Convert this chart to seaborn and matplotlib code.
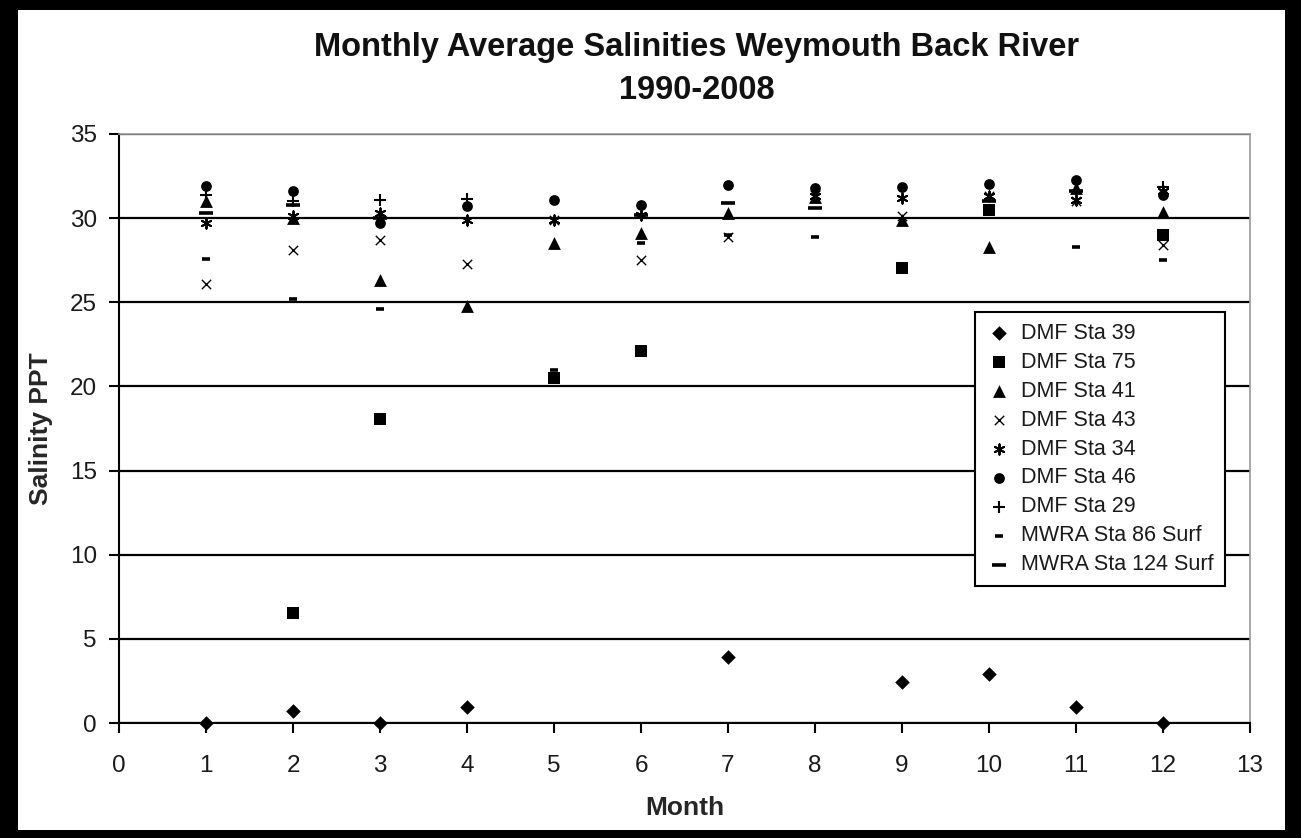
import numpy as np
import pandas as pd
import matplotlib
matplotlib.use("Agg")
import matplotlib.pyplot as plt
from matplotlib.patches import Rectangle
import seaborn as sns

nan = np.nan

months = list(range(1, 13))

sta39 = [0.0, 0.73, 0.0, 0.98, nan, nan, 3.9, nan, 2.42, 2.93, 0.98, 0.0]
sta75 = [nan, 6.56, 18.05, nan, 20.5, 22.1, nan, nan, 27.05, 30.5, nan, 29.0]
sta41 = [31.0, 30.0, 26.35, 24.75, 28.55, 29.1, 30.3, 31.25, 29.9, 28.3, 31.8, 30.35]
sta43 = [26.1, 28.1, 28.7, 27.3, 29.9, 27.5, 28.85, 31.4, 30.1, 31.3, 31.0, 28.4]
sta34 = [29.7, 30.1, 30.3, 29.9, 29.9, 30.2, nan, 31.3, 31.2, 31.3, 31.1, 31.6]
sta46 = [31.9, 31.6, 29.7, 30.7, 31.1, 30.8, 31.95, 31.8, 31.85, 32.0, 32.25, 31.35]
sta29 = [31.4, 31.0, 31.1, 31.15, nan, nan, nan, nan, nan, nan, nan, 31.85]
mwra86 = [27.55, 25.2, 24.6, nan, 21.0, 28.55, 29.0, 28.9, nan, nan, 28.3, 27.5]
mwra124 = [30.3, 30.8, 30.0, nan, nan, 30.2, 30.9, 30.6, nan, 31.0, 31.6, nan]

station_names = ["DMF Sta 39", "DMF Sta 75", "DMF Sta 41", "DMF Sta 43",
                 "DMF Sta 34", "DMF Sta 46", "DMF Sta 29",
                 "MWRA Sta 86 Surf", "MWRA Sta 124 Surf"]
station_values = [sta39, sta75, sta41, sta43, sta34, sta46, sta29, mwra86, mwra124]

x_ticks = list(range(0, 14))
y_ticks = list(range(0, 36, 5))

title_text = "Monthly Average Salinities Weymouth Back River\n1990-2008"
x_label = "Month"
y_label = "Salinity PPT"

df = pd.DataFrame({
    "Month": np.tile(months, len(station_names)),
    "Salinity": np.concatenate(station_values),
    "Station": np.repeat(station_names, len(months)),
})

# marker, size (pt^2), edge line width
marker_styles = {
    "DMF Sta 39": ("D", 55, 0),
    "DMF Sta 75": ("s", 75, 0),
    "DMF Sta 41": ("^", 85, 0),
    "DMF Sta 43": ("x", 45, 1.0),
    "DMF Sta 34": ((6, 2, 0), 55, 1.4),
    "DMF Sta 46": ("o", 60, 0),
    "DMF Sta 29": ("+", 65, 1.5),
    "MWRA Sta 86 Surf": ("_", 32, 2.6),
    "MWRA Sta 124 Surf": ("_", 100, 2.6),
}

sns.set_theme(style="ticks")
plt.rcParams["font.family"] = ["Liberation Sans", "DejaVu Sans"]

fig = plt.figure(figsize=(13.01, 8.38), dpi=100)
fig.patch.set_facecolor("black")
fig.add_artist(Rectangle((18 / 1301, 8 / 838), (1285 - 18) / 1301, (838 - 18) / 838,
                         transform=fig.transFigure, facecolor="white",
                         edgecolor="none", zorder=-5))

ax = fig.add_axes([119 / 1301, 1 - 723 / 838, (1250 - 119) / 1301, (723 - 134) / 838])
ax.set_facecolor("white")

for name in station_names:
    mk, sz, lw = marker_styles[name]
    sub = df[df["Station"] == name].dropna()
    if lw == 0:
        sns.scatterplot(data=sub, x="Month", y="Salinity", ax=ax, marker=mk, s=sz,
                        color="black", linewidth=0, label=name, zorder=3,
                        clip_on=False)
    else:
        sns.scatterplot(data=sub, x="Month", y="Salinity", ax=ax, marker=mk, s=sz,
                        color="black", edgecolor="black", linewidth=lw,
                        label=name, zorder=3, clip_on=False)

ax.set_xlim(0, 13)
ax.set_ylim(0, 35)
ax.set_xticks(x_ticks)
ax.set_yticks(y_ticks)
ax.yaxis.grid(True, color="black", linewidth=1.6)
ax.set_axisbelow(True)

for side in ("left", "bottom"):
    ax.spines[side].set_color("black")
    ax.spines[side].set_linewidth(1.5)
for side in ("top", "right"):
    ax.spines[side].set_visible(True)
    ax.spines[side].set_color("#9a9a9a")
    ax.spines[side].set_linewidth(1.2)

ax.tick_params(axis="both", direction="out", length=7, width=1.5, color="black",
               labelsize=17.5, labelcolor="#1a1a1a")
ax.tick_params(axis="x", pad=16)
ax.tick_params(axis="y", pad=9)

ax.set_xlabel(x_label, fontsize=19, fontweight="bold", labelpad=14)
ax.set_ylabel(y_label, fontsize=19, fontweight="bold", labelpad=12)

fig.text(697 / 1301, 1 - 69 / 838, title_text, ha="center", va="center",
         fontsize=23.5, fontweight="bold", linespacing=1.5, color="#111111")

leg = ax.legend(loc="upper left", bbox_to_anchor=(0.757, 0.698), fontsize=15.5,
                frameon=True, fancybox=False, edgecolor="black", framealpha=1,
                handlelength=1.2, handletextpad=0.45, labelspacing=0.37,
                borderpad=0.5, borderaxespad=0)
leg.get_frame().set_linewidth(1.5)
for t in leg.get_texts():
    t.set_color("#1a1a1a")

fig.savefig("out.png", dpi=100, facecolor=fig.get_facecolor())
